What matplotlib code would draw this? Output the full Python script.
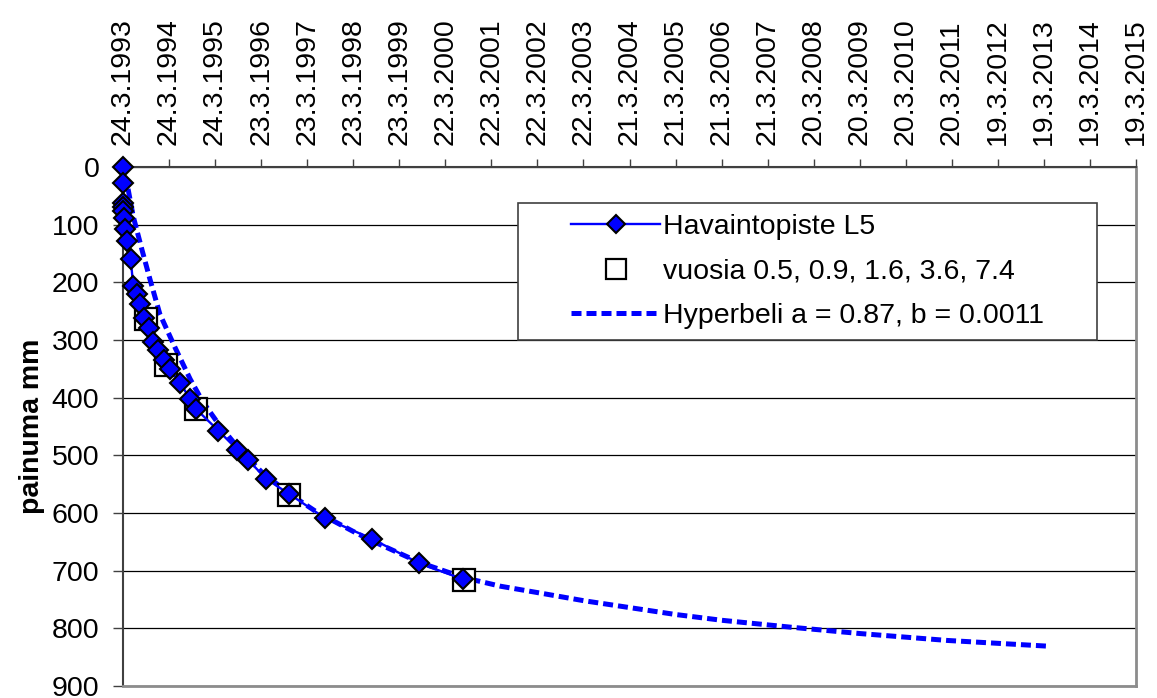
import matplotlib
matplotlib.use("Agg")
import matplotlib.pyplot as plt
from matplotlib.patches import Rectangle

plt.rcParams['font.family'] = ['Liberation Sans', 'DejaVu Sans']

# x axis: one tick per 365 days from the first reading
date_labels = ['24.3.1993', '24.3.1994', '24.3.1995', '23.3.1996', '23.3.1997', '23.3.1998',
               '23.3.1999', '22.3.2000', '22.3.2001', '22.3.2002', '22.3.2003', '21.3.2004',
               '21.3.2005', '21.3.2006', '21.3.2007', '20.3.2008', '20.3.2009', '20.3.2010',
               '20.3.2011', '19.3.2012', '19.3.2013', '19.3.2014', '19.3.2015']

# measured settlement, L5 (years since first reading, mm)
obs_years = [0.0, 0.0, 0.0, 0.0, 0.01, 0.02, 0.04, 0.08, 0.17, 0.22, 0.30, 0.37, 0.46, 0.57,
             0.66, 0.77, 0.88, 1.02, 1.24, 1.46, 1.59, 2.07, 2.48, 2.72, 3.11, 3.61, 4.39,
             5.41, 6.43, 7.39]
obs_mm = [0, 28, 63, 70, 76, 89, 108, 128, 160, 206, 221, 238, 261, 279,
          304, 317, 334, 351, 374, 403, 420, 457, 490, 508, 541, 567, 609,
          645, 687, 715]

# highlighted readings at 0.5, 0.9, 1.6, 3.6, 7.4 years
mark_years = [0.49, 0.93, 1.58, 3.61, 7.40]
mark_mm = [264, 344, 420, 569, 717]

# hyperbola fit
fit_years = [0.11, 0.22, 0.41, 0.59, 0.8, 1.13, 1.46, 1.74, 2.07, 2.5, 3.0, 3.6, 4.2, 5.0,
             5.4, 6.45, 7.4, 8.2, 9.0, 10.0, 11.0, 12.0, 13.0, 14.5, 16.0, 17.9, 20.1]
fit_mm = [38, 85, 143, 196, 255, 313, 368, 408, 445, 487, 528, 566, 598, 632,
          648, 686, 712, 727, 738, 752, 764, 776, 786, 798, 809, 821, 831]

fig = plt.figure(figsize=(11.57, 6.98), dpi=100)
ax = fig.add_axes([123 / 1157, 12 / 698, 1013 / 1157, 519 / 698])

fit_line, = ax.plot(fit_years, fit_mm, color='#0000FF', lw=3.6, dashes=(2, 1), zorder=2,
                    label='Hyperbeli a = 0.87, b = 0.0011')
marks, = ax.plot(mark_years, mark_mm, ls='none', marker='s', ms=16.5, mfc='white',
                 mec='black', mew=1.6, zorder=3, clip_on=False,
                 label='vuosia 0.5, 0.9, 1.6, 3.6, 7.4')
obs_line, = ax.plot(obs_years, obs_mm, color='#0000FF', lw=1.7, marker='D', ms=10.5,
                    mfc='#0000FF', mec='black', mew=1.5, zorder=4, clip_on=False,
                    label='Havaintopiste L5')

ax.set_xlim(0, 22)
ax.set_ylim(900, 0)
ax.xaxis.tick_top()
ax.set_xticks(range(len(date_labels)))
ax.set_xticklabels(date_labels, rotation=90)
ax.set_yticks(range(0, 901, 100))
ax.tick_params(axis='x', direction='out', length=6, width=1, color='#404040', pad=10,
               labelsize=20.5)
ax.tick_params(axis='y', direction='out', length=7, width=1, color='#404040', pad=10,
               labelsize=20.5)
ax.yaxis.grid(True, color='black', lw=0.9)
ax.set_axisbelow(True)

for side in ['left', 'top']:
    ax.spines[side].set_color('#404040')
    ax.spines[side].set_linewidth(1.5)
for side in ['right', 'bottom']:
    ax.spines[side].set_color('#8c8c8c')
    ax.spines[side].set_linewidth(2)

ax.set_ylabel('painuma mm', fontsize=20.5, fontweight='bold', va='center')
ax.yaxis.set_label_coords(-0.09, 0.5)

# legend box drawn separately so the padding matches
ax.add_patch(Rectangle((0.390, 0.6667), 0.5716, 0.264, transform=ax.transAxes,
                       facecolor='white', edgecolor='#404040', lw=1.2, zorder=5))
leg = ax.legend(handles=[obs_line, marks, fit_line], loc='center',
                bbox_to_anchor=(0.6757, 0.7987), frameon=False, fontsize=20.5,
                numpoints=1, handlelength=3.1, handletextpad=0.1, labelspacing=0.65,
                markerscale=0.85)
leg.set_zorder(6)

fig.savefig('out.png', dpi=100)
